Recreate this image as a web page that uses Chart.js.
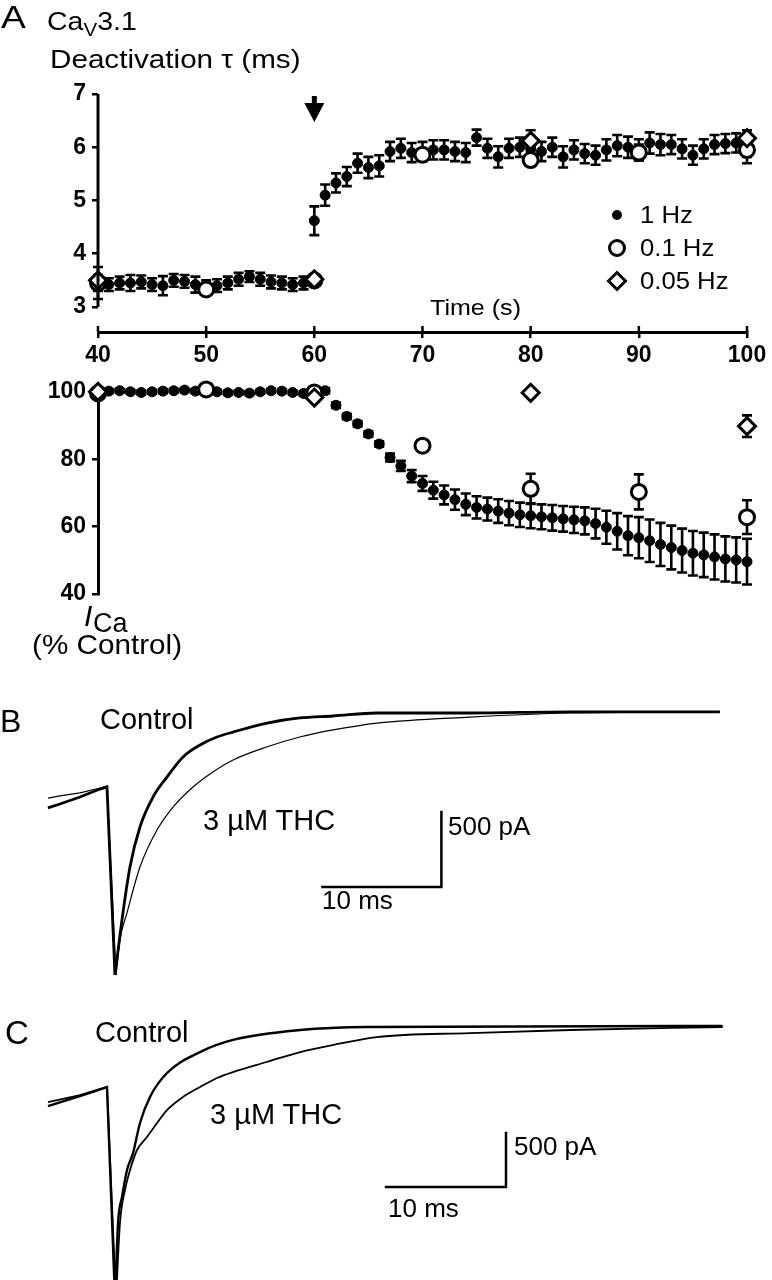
<!DOCTYPE html>
<html>
<head>
<meta charset="utf-8">
<script src="https://cdn.jsdelivr.net/npm/chart.js@4.4.1/dist/chart.umd.min.js"></script>
<style>
  body { margin: 0; background: #fff; width: 772px; height: 1280px; position: relative; overflow: hidden;
         font-family: "Liberation Sans", Arial, sans-serif; color: #000; }
  canvas { position: absolute; left: 0; }
  .t { position: absolute; line-height: 1; white-space: nowrap; transform-origin: 0 50%; }
  .w { transform: scaleX(1.14); }
  .lg { position: absolute; }
</style>
</head>
<body>
<canvas id="tauChart" width="772" height="372" style="top:0px"></canvas>
<canvas id="curChart" width="772" height="250" style="top:372px"></canvas>
<canvas id="traceB" width="772" height="300" style="top:690px"></canvas>
<canvas id="traceC" width="772" height="290" style="top:990px"></canvas>

<!-- panel A text -->
<div class="t" style="left:1px;top:2px;font-size:31px;transform:scaleX(1.2)">A</div>
<div class="t w" style="left:47px;top:9px;font-size:25px">Ca<sub style="font-size:18px;vertical-align:-6px">V</sub>3.1</div>
<div class="t w" style="left:50px;top:46px;font-size:26px">Deactivation τ (ms)</div>
<div class="t w" style="left:430px;top:297px;font-size:22px">Time (s)</div>

<svg class="lg" style="left:605px;top:203px" width="24" height="24"><circle cx="12" cy="12" r="5" fill="#000"/></svg>
<svg class="lg" style="left:605px;top:236px" width="24" height="24"><circle cx="12" cy="12" r="7.5" fill="#fff" stroke="#000" stroke-width="3"/></svg>
<svg class="lg" style="left:605px;top:269px" width="24" height="24"><path d="M3.5 12 L12 3.5 L20.5 12 L12 20.5 Z" fill="#fff" stroke="#000" stroke-width="3"/></svg>
<div class="t" style="left:640px;top:203px;font-size:24px;transform:scaleX(1.07)">1 Hz</div>
<div class="t" style="left:640px;top:236px;font-size:24px;transform:scaleX(1.07)">0.1 Hz</div>
<div class="t" style="left:640px;top:269px;font-size:24px;transform:scaleX(1.07)">0.05 Hz</div>

<div class="t" style="left:84px;top:601px;font-size:30px;font-style:italic">I</div>
<div class="t" style="left:93px;top:610px;font-size:27px">Ca</div>
<div class="t" style="left:32px;top:631px;font-size:28px;transform:scaleX(1.06)">(% Control)</div>

<!-- panel B text -->
<div class="t" style="left:0px;top:705px;font-size:32px">B</div>
<div class="t" style="left:100px;top:705px;font-size:29px">Control</div>
<div class="t" style="left:203px;top:806px;font-size:29px">3 µM THC</div>
<div class="t" style="left:448px;top:813px;font-size:26px">500 pA</div>
<div class="t" style="left:322px;top:887px;font-size:26px">10 ms</div>

<!-- panel C text -->
<div class="t" style="left:5px;top:1016px;font-size:33px">C</div>
<div class="t" style="left:95px;top:1018px;font-size:29px">Control</div>
<div class="t" style="left:210px;top:1100px;font-size:29px">3 µM THC</div>
<div class="t" style="left:514px;top:1133px;font-size:26px">500 pA</div>
<div class="t" style="left:388px;top:1195px;font-size:26px">10 ms</div>

<script>
// ---- panel A data ----
const timeTicks = [40, 50, 60, 70, 80, 90, 100];
const tauTicks = [3, 4, 5, 6, 7];
const pctTicks = [40, 60, 80, 100];
const arrowTime = 60;

const sec1Hz = [40, 41, 42, 43, 44, 45, 46, 47, 48, 49, 50, 51, 52, 53, 54, 55, 56, 57, 58, 59,
  60, 61, 62, 63, 64, 65, 66, 67, 68, 69, 70, 71, 72, 73, 74, 75, 76, 77, 78, 79,
  80, 81, 82, 83, 84, 85, 86, 87, 88, 89, 90, 91, 92, 93, 94, 95, 96, 97, 98, 99, 100];
const tau1Hz = [3.45, 3.42, 3.45, 3.45, 3.47, 3.42, 3.40, 3.50, 3.48, 3.42, 3.38, 3.40, 3.45, 3.52, 3.57, 3.52, 3.47, 3.45, 3.42, 3.45,
  4.62, 5.10, 5.33, 5.45, 5.70, 5.62, 5.65, 5.92, 5.98, 5.90, 5.92, 5.95, 5.95, 5.92, 5.90, 6.18, 5.98, 5.82, 5.98, 6.00,
  5.98, 5.92, 6.00, 5.82, 5.95, 5.88, 5.85, 5.95, 6.03, 6.00, 5.95, 6.08, 6.05, 6.05, 5.97, 5.85, 5.97, 6.05, 6.07, 6.08, 6.00];
const tauErr1Hz = [0.15, 0.12, 0.12, 0.15, 0.12, 0.12, 0.18, 0.12, 0.12, 0.15, 0.12, 0.12, 0.12, 0.12, 0.1, 0.12, 0.12, 0.12, 0.12, 0.12,
  0.27, 0.2, 0.18, 0.18, 0.18, 0.2, 0.2, 0.18, 0.18, 0.18, 0.18, 0.18, 0.18, 0.18, 0.18, 0.15, 0.18, 0.2, 0.18, 0.18,
  0.18, 0.18, 0.18, 0.2, 0.18, 0.18, 0.18, 0.2, 0.2, 0.2, 0.2, 0.2, 0.2, 0.18, 0.18, 0.18, 0.18, 0.18, 0.18, 0.18, 0.18];
const pct1Hz = [100, 100.2, 100.3, 100, 99.8, 100, 100.2, 100.3, 100.5, 100.2, 100.5, 100, 99.7, 99.8, 99.6, 100, 100.3, 100.2, 99.8, 99.5,
  100.2, 100.3, 96, 92.7, 90.5, 87.5, 84.5, 80.5, 78, 75, 72.8, 70.8, 69.4, 68, 66.6, 65.7, 65.2, 64.6, 64, 63.5,
  63.2, 62.9, 62.6, 62.3, 62, 61.7, 60.9, 59.8, 58.6, 57.3, 56.7, 55.8, 54.7, 53.8, 52.9, 52.1, 51.6, 51, 50.4, 50.1, 49.6];
const pctErr1Hz = [0.6, 0.6, 0.6, 0.6, 0.6, 0.6, 0.6, 0.6, 0.6, 0.6, 0.6, 0.6, 0.6, 0.6, 0.6, 0.6, 0.6, 0.6, 0.6, 0.6,
  0.8, 0.8, 0.8, 0.8, 0.8, 0.8, 0.8, 1.2, 1.5, 1.8, 2.2, 2.5, 2.8, 3, 3.2, 3.3, 3.4, 3.5, 3.6, 3.6,
  3.7, 3.7, 3.8, 3.8, 3.9, 4, 4.4, 4.9, 5.4, 5.8, 6.1, 6.3, 6.4, 6.5, 6.5, 6.6, 6.6, 6.7, 6.7, 6.7, 6.8];

const sec01Hz = [40, 50, 60, 70, 80, 90, 100];
const tau01Hz = [3.45, 3.33, 3.5, 5.86, 5.76, 5.9, 5.95];
const tauErr01Hz = [0.3, 0.05, 0.05, 0.1, 0.1, 0.15, 0.25];
const pct01Hz = [99.5, 100.7, 99.8, 84, 71.2, 70.3, 62.8];
const pctErr01Hz = [0.5, 0.5, 0.5, 1.5, 4.5, 5.2, 5];

const sec005Hz = [40, 60, 80, 100];
const tau005Hz = [3.5, 3.52, 6.12, 6.17];
const tauErr005Hz = [0.05, 0.05, 0.2, 0.15];
const pct005Hz = [100, 98.3, 99.7, 89.8];
const pctErr005Hz = [0.5, 0.8, 0.5, 3.2];

// ---- panel B / C current traces (ms, pA) ----
const bControlMs = [-4.96, -3.95, -2.27, -0.59, 0, 0.67, 1.34, 1.93, 2.77, 3.87, 5.04, 6.39, 7.82, 9.24, 10.59, 13.45, 16.2, 19.0, 22.7, 30.5, 38.9, 51.5];
const bControlPa = [-633, -607, -560, -507, -493, -1747, -1333, -1027, -760, -560, -427, -293, -213, -160, -127, -67, -33, -20, 0, 0, 7, 7];
const bThcMs = [-4.96, -3.95, -2.27, -0.59, 0, 0.76, 1.09, 1.68, 2.77, 4.2, 5.55, 7.23, 8.9, 10.6, 13.4, 16.2, 19.0, 22.7, 30.5, 38.9, 51.5];
const bThcPa = [-567, -553, -533, -500, -487, -1747, -1513, -1333, -1027, -780, -627, -493, -393, -313, -227, -160, -113, -67, -27, 0, 7];
const cControlMs = [-4.92, -2.25, 0, 0.67, 0.92, 1.25, 1.67, 2.17, 2.75, 3.58, 5.0, 7.75, 10.5, 16.1, 21.7, 51.3];
const cControlPa = [-732, -639, -556, -2528, -1815, -1574, -1324, -1167, -889, -648, -426, -232, -120, -28, 0, 9];
const cThcMs = [-4.92, -2.25, 0, 0.75, 1.08, 1.5, 1.92, 2.5, 3.33, 4.17, 5.0, 6.33, 7.75, 9.17, 10.5, 13.3, 16.1, 18.8, 22.5, 30.25, 38.6, 51.3];
const cThcPa = [-695, -630, -556, -2528, -1815, -1509, -1324, -1139, -1019, -889, -769, -648, -556, -472, -417, -324, -232, -167, -93, -56, -28, 0];
const barBMs = [18.1, 28.1, 28.1];
const barBPa = [-1160, -1160, -660];
const barCMs = [23.25, 33.25, 33.25];
const barCPa = [-1482, -1482, -982];

Chart.defaults.font.family = '"Liberation Sans", Arial, sans-serif';
Chart.defaults.font.size = 23;
Chart.defaults.color = '#000';

const pts = (xs, ys) => xs.map((x, i) => ({ x: x, y: ys[i] }));

const errorBarPlugin = {
  id: 'errorBars',
  beforeDatasetsDraw(chart) {
    const ctx = chart.ctx;
    const y = chart.scales.y;
    ctx.save();
    ctx.strokeStyle = '#000';
    ctx.lineWidth = 2.6;
    chart.data.datasets.forEach((ds, i) => {
      if (!ds.errorBars) return;
      chart.getDatasetMeta(i).data.forEach((pt, j) => {
        const v = ds.data[j].y, e = ds.errorBars[j];
        const top = y.getPixelForValue(v + e), bot = y.getPixelForValue(v - e);
        ctx.beginPath();
        ctx.moveTo(pt.x, top); ctx.lineTo(pt.x, bot);
        ctx.moveTo(pt.x - 5, top); ctx.lineTo(pt.x + 5, top);
        ctx.moveTo(pt.x - 5, bot); ctx.lineTo(pt.x + 5, bot);
        ctx.stroke();
      });
    });
    ctx.restore();
  }
};

// y axis line (7 down to 3 only), inward x ticks and the arrow at 60 s
const tauAxisPlugin = {
  id: 'tauAxis',
  afterDraw(chart) {
    const { ctx, chartArea } = chart;
    const x = chart.scales.x, y = chart.scales.y;
    ctx.save();
    ctx.strokeStyle = '#000';
    ctx.fillStyle = '#000';
    ctx.lineWidth = 3;
    ctx.beginPath();
    ctx.moveTo(chartArea.left, y.getPixelForValue(tauTicks[tauTicks.length - 1]));
    ctx.lineTo(chartArea.left, y.getPixelForValue(tauTicks[0]));
    ctx.stroke();
    ctx.lineWidth = 2.5;
    timeTicks.forEach(v => {
      const px = x.getPixelForValue(v);
      ctx.beginPath();
      ctx.moveTo(px, chartArea.bottom);
      ctx.lineTo(px, chartArea.bottom - 6);
      ctx.stroke();
    });
    const ax = x.getPixelForValue(arrowTime);
    const at = chartArea.top + 2;
    ctx.fillRect(ax - 2.5, at, 5, 8);
    ctx.beginPath();
    ctx.moveTo(ax - 10, at + 7);
    ctx.lineTo(ax + 10, at + 7);
    ctx.lineTo(ax, at + 26);
    ctx.closePath();
    ctx.fill();
    ctx.restore();
  }
};

function markerSets(yA, eA, yB, eB, yC, eC) {
  return [
    { data: pts(sec1Hz, yA), errorBars: eA, pointStyle: 'circle', pointRadius: 5,
      backgroundColor: '#000', borderColor: '#000', borderWidth: 1, showLine: false, order: 3, clip: false },
    { data: pts(sec01Hz, yB), errorBars: eB, pointStyle: 'circle', pointRadius: 7.5,
      backgroundColor: '#fff', borderColor: '#000', borderWidth: 3, showLine: false, order: 2, clip: false },
    { data: pts(sec005Hz, yC), errorBars: eC, pointStyle: 'rectRot', pointRadius: 8.5,
      backgroundColor: '#fff', borderColor: '#000', borderWidth: 3, showLine: false, order: 1, clip: false }
  ];
}

const baseOpts = {
  responsive: false,
  animation: false,
  plugins: { legend: { display: false }, tooltip: { enabled: false } }
};
const tickFont = { size: 23, weight: 'bold' };

new Chart(document.getElementById('tauChart'), {
  type: 'scatter',
  data: { datasets: markerSets(tau1Hz, tauErr1Hz, tau01Hz, tauErr01Hz, tau005Hz, tauErr005Hz) },
  options: Object.assign({}, baseOpts, {
    layout: { padding: { top: 94, right: 25, left: 0, bottom: 0 } },
    scales: {
      x: {
        type: 'linear', min: 40, max: 100,
        afterFit: s => { s.height = 40; },
        afterBuildTicks: s => { s.ticks = timeTicks.map(v => ({ value: v })); },
        border: { display: true, color: '#000', width: 3 },
        grid: { drawOnChartArea: false, drawTicks: true, tickLength: 6, color: '#000', lineWidth: 2.5 },
        ticks: { padding: 4, font: tickFont }
      },
      y: {
        type: 'linear', min: 2.53, max: 7,
        afterFit: s => { s.width = 98; },
        afterBuildTicks: s => { s.ticks = tauTicks.map(v => ({ value: v })); },
        border: { display: false },
        grid: { drawOnChartArea: false, drawTicks: true, tickLength: 6, color: '#000', lineWidth: 2.5 },
        ticks: { padding: 6, font: tickFont }
      }
    }
  }),
  plugins: [errorBarPlugin, tauAxisPlugin]
});

new Chart(document.getElementById('curChart'), {
  type: 'scatter',
  data: { datasets: markerSets(pct1Hz, pctErr1Hz, pct01Hz, pctErr01Hz, pct005Hz, pctErr005Hz) },
  options: Object.assign({}, baseOpts, {
    layout: { padding: { top: 11, right: 25, left: 0, bottom: 28 } },
    scales: {
      x: { type: 'linear', min: 40, max: 100, display: false },
      y: {
        type: 'linear', min: 40, max: 100,
        afterFit: s => { s.width = 98; },
        afterBuildTicks: s => { s.ticks = pctTicks.map(v => ({ value: v })); },
        border: { display: true, color: '#000', width: 3 },
        grid: { drawOnChartArea: false, drawTicks: true, tickLength: 6, color: '#000', lineWidth: 2.5 },
        ticks: { padding: 6, font: tickFont }
      }
    }
  }),
  plugins: [errorBarPlugin]
});

// a trace is drawn straight up to its peak (sharp spike) and smoothed afterwards
function traceSets(ms, pa, width) {
  const all = pts(ms, pa);
  const peak = pa.indexOf(Math.min(...pa));
  return [
    { data: all.slice(0, peak + 1), borderColor: '#000', borderWidth: width, pointRadius: 0, tension: 0 },
    { data: all.slice(peak), borderColor: '#000', borderWidth: width, pointRadius: 0, cubicInterpolationMode: 'monotone' }
  ];
}

function traceChart(id, ctrlMs, ctrlPa, thcMs, thcPa, barMs, barPa, ctrlW, thcW, xr, yr) {
  return new Chart(document.getElementById(id), {
    type: 'line',
    data: {
      datasets: traceSets(ctrlMs, ctrlPa, ctrlW).concat(traceSets(thcMs, thcPa, thcW), [
        { data: pts(barMs, barPa), borderColor: '#000', borderWidth: 2.5, pointRadius: 0, tension: 0,
          borderJoinStyle: 'miter', borderCapStyle: 'square' }
      ])
    },
    options: Object.assign({}, baseOpts, {
      layout: { padding: 0 },
      scales: {
        x: { type: 'linear', min: xr[0], max: xr[1], display: false },
        y: { type: 'linear', min: yr[0], max: yr[1], display: false }
      }
    })
  });
}

traceChart('traceB', bControlMs, bControlPa, bThcMs, bThcPa, barBMs, barBPa, 2.8, 1.2, [-8.99, 55.88], [-1846.7, 153.3]);
traceChart('traceC', cControlMs, cControlPa, cThcMs, cThcPa, barCMs, barCPa, 2.4, 1.8, [-8.917, 55.417], [-2342.6, 342.6]);
</script>
</body>
</html>
